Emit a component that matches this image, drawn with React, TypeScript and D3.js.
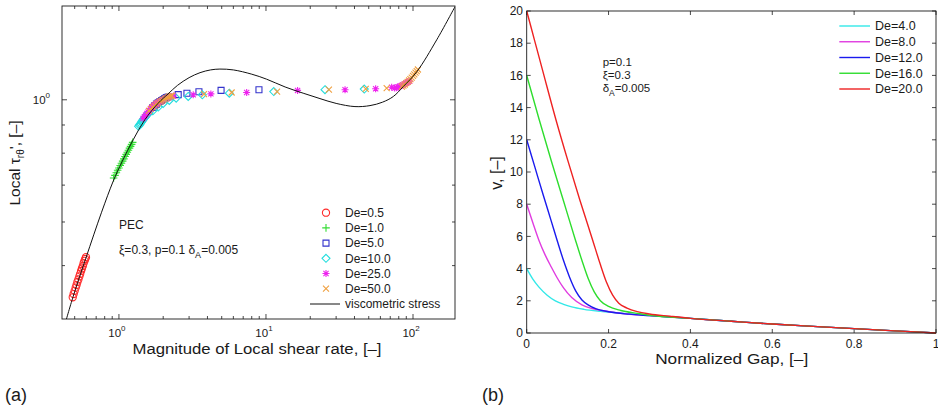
import React from "react";
import * as d3 from "d3";

// ---------- Panel (a) data ----------
const xTickMajorA = [1, 10, 100];
const xTickExpA = ["0", "1", "2"];
const xTickMinorA = [0.5, 0.6, 0.7, 0.8, 0.9, 2, 3, 4, 5, 6, 7, 8, 9, 20, 30, 40, 50, 60, 70, 80, 90];
const yTickMajorA = [1];
const yTickExpA = ["0"];
const yTickMinorA = [0.5, 0.6, 0.7, 0.8, 0.9];

const viscoX = [0.43, 0.489, 0.596, 0.762, 0.915, 1.05, 1.25, 1.5, 1.85, 2.16, 2.5, 3.0, 3.56, 4.2, 4.86, 6.0, 8.0, 10.1, 13.5, 17.9, 23.3, 30, 40.3, 51, 62, 73.5, 85.9, 106, 145, 193];
const viscoY = [0.392, 0.44, 0.516, 0.625, 0.712, 0.772, 0.846, 0.92, 0.986, 1.025, 1.062, 1.097, 1.12, 1.133, 1.137, 1.133, 1.113, 1.09, 1.055, 1.028, 1.005, 0.985, 0.972, 0.976, 0.99, 1.014, 1.057, 1.124, 1.285, 1.476];

const de05X = [0.485, 0.492, 0.5, 0.508, 0.515, 0.522, 0.53, 0.538, 0.545, 0.553, 0.56, 0.568, 0.575, 0.583, 0.59, 0.597];
const de05Y = [0.438, 0.444, 0.45, 0.456, 0.461, 0.467, 0.472, 0.478, 0.483, 0.489, 0.494, 0.499, 0.505, 0.51, 0.514, 0.518];

const de1X = [0.92, 0.94, 0.96, 0.98, 1.0, 1.02, 1.04, 1.06, 1.08, 1.1, 1.12, 1.14, 1.16, 1.18, 1.2, 1.22, 1.24];
const de1Y = [0.721, 0.729, 0.737, 0.745, 0.752, 0.76, 0.767, 0.774, 0.781, 0.789, 0.796, 0.803, 0.81, 0.817, 0.823, 0.83, 0.837];

const de5X = [1.7, 1.75, 1.8, 1.85, 1.9, 1.95, 2.0, 2.05, 2.1, 2.16, 2.53, 2.9, 3.5, 4.95, 8.96];
const de5Y = [0.968, 0.975, 0.982, 0.988, 0.993, 0.997, 1.001, 1.005, 1.009, 1.012, 1.022, 1.028, 1.034, 1.04, 1.043];

const de10X = [1.36, 1.38, 1.4, 1.42, 1.44, 1.46, 1.48, 1.5, 1.52, 1.54, 1.56, 1.58, 1.6, 1.7, 1.85, 2.0, 2.2, 2.45, 2.96, 3.69, 5.63, 11.3, 25.2, 46.6];
const de10Y = [0.895, 0.9, 0.905, 0.91, 0.915, 0.92, 0.925, 0.929, 0.933, 0.937, 0.94, 0.944, 0.947, 0.955, 0.97, 0.985, 0.997, 1.007, 1.014, 1.021, 1.028, 1.035, 1.043, 1.046];

const de25X = [1.46, 1.49, 1.52, 1.55, 1.58, 1.61, 1.64, 1.67, 1.7, 1.73, 1.76, 1.79, 1.82, 1.86, 1.9, 1.95, 2.0, 2.1, 2.2, 2.35, 3.2, 4.22, 7.39, 16.4, 34.5, 55.7, 71.6, 75, 77, 79, 81, 83, 85, 87, 89, 91, 93, 95];
const de25Y = [0.925, 0.932, 0.938, 0.944, 0.95, 0.956, 0.962, 0.967, 0.972, 0.976, 0.98, 0.984, 0.987, 0.99, 0.993, 0.997, 1.0, 1.007, 1.012, 1.016, 1.021, 1.025, 1.031, 1.04, 1.043, 1.047, 1.054, 1.05, 1.052, 1.055, 1.058, 1.06, 1.064, 1.067, 1.071, 1.075, 1.078, 1.082];

const de50X = [1.6, 1.65, 1.7, 1.75, 1.8, 1.85, 1.9, 1.95, 2.0, 2.05, 2.1, 2.15, 2.2, 2.25, 2.3, 3.79, 5.84, 11.9, 26.8, 47.7, 66.2, 84, 86, 88, 90, 92, 94, 96, 98, 100, 102, 104, 106, 108];
const de50Y = [0.955, 0.963, 0.97, 0.976, 0.982, 0.987, 0.992, 0.996, 1.0, 1.004, 1.007, 1.01, 1.013, 1.016, 1.018, 1.024, 1.031, 1.035, 1.043, 1.047, 1.05, 1.057, 1.061, 1.066, 1.072, 1.078, 1.084, 1.09, 1.097, 1.105, 1.112, 1.12, 1.127, 1.135];

const legendLabelsA = ["De=0.5", "De=1.0", "De=5.0", "De=10.0", "De=25.0", "De=50.0"];

// ---------- Panel (b) data ----------
const xTicksB = [0, 0.2, 0.4, 0.6, 0.8, 1];
const xTickLabelsB = ["0", "0.2", "0.4", "0.6", "0.8", "1"];
const yTicksB = [0, 2, 4, 6, 8, 10, 12, 14, 16, 18, 20];

const tailGap = [0.4, 0.5, 0.6, 0.7, 0.8, 0.9, 1.0];
const tailV = [0.91, 0.73, 0.555, 0.41, 0.27, 0.135, 0.0];

const gap4 = [0, 0.015, 0.03, 0.05, 0.07, 0.09, 0.11, 0.14, 0.18, 0.22, 0.3];
const v4 = [4, 3.35, 2.85, 2.35, 2.0, 1.78, 1.62, 1.47, 1.35, 1.26, 1.08];
const gap8 = [0, 0.015, 0.03, 0.045, 0.06, 0.075, 0.09, 0.11, 0.135, 0.16, 0.19, 0.23, 0.3];
const v8 = [8, 6.85, 5.75, 4.85, 4.1, 3.4, 2.8, 2.2, 1.75, 1.52, 1.37, 1.23, 1.08];
const gap12 = [0, 0.02, 0.04, 0.06, 0.075, 0.09, 0.105, 0.12, 0.135, 0.15, 0.17, 0.2, 0.25, 0.3];
const v12 = [12, 10.3, 8.6, 6.95, 5.7, 4.5, 3.45, 2.6, 2.05, 1.75, 1.5, 1.32, 1.17, 1.08];
const gap16 = [0, 0.0308, 0.06, 0.09, 0.119, 0.135, 0.15, 0.165, 0.18, 0.2, 0.23, 0.27, 0.3];
const v16 = [16, 13.23, 10.7, 8.2, 5.78, 4.5, 3.4, 2.55, 2.0, 1.65, 1.4, 1.22, 1.1];
const gap20 = [0, 0.02, 0.04, 0.0716, 0.1, 0.13, 0.161, 0.18, 0.195, 0.21, 0.225, 0.245, 0.27, 0.3, 0.35];
const v20 = [20, 18.1, 16.2, 13.23, 10.75, 8.25, 5.78, 4.25, 3.15, 2.35, 1.85, 1.55, 1.33, 1.18, 1.04];

const legendLabelsB = ["De=4.0", "De=8.0", "De=12.0", "De=16.0", "De=20.0"];

// ---------- styling ----------
const FONT = "'Liberation Sans', Arial, Helvetica, sans-serif";
const markerTypes = ["circle", "plus", "square", "diamond", "star", "x"];
const markerColors = ["#ff2a2a", "#33dd33", "#3333cc", "#22dddd", "#ee22ee", "#f0a040"];
const lineColorsB = ["#33e8e8", "#e03ce0", "#1a1aee", "#2edd2e", "#ee2222"];

function markerPath(type: string): string {
  switch (type) {
    case "circle": {
      const s = 3.6;
      return `M${-s},0A${s},${s} 0 1,0 ${s},0A${s},${s} 0 1,0 ${-s},0Z`;
    }
    case "plus": {
      const s = 3.8;
      return `M${-s},0H${s}M0,${-s}V${s}`;
    }
    case "square": {
      const s = 3.0;
      return `M${-s},${-s}H${s}V${s}H${-s}Z`;
    }
    case "diamond": {
      const s = 4.0;
      return `M0,${-s}L${s},0L0,${s}L${-s},0Z`;
    }
    case "star": {
      const s = 3.5, d = 2.6;
      return `M${-s},0H${s}M0,${-s}V${s}M${-d},${-d}L${d},${d}M${-d},${d}L${d},${-d}`;
    }
    default: {
      const s = 3.0;
      return `M${-s},${-s}L${s},${s}M${-s},${s}L${s},${-s}`;
    }
  }
}

export default function App() {
  // Panel (a) scales
  const xA = d3.scaleLog().domain([0.41, 193]).range([62, 455]);
  const yA = d3.scaleLog().domain([0.4, 1.48]).range([319, 6]);
  const [aL, aR] = xA.range();
  const [aB, aT] = yA.range();

  const viscoLine = d3
    .line<number>()
    .x((i) => xA(viscoX[i]))
    .y((i) => yA(viscoY[i]))
    .curve(d3.curveCatmullRom.alpha(0.5));

  const seriesA = [
    [de05X, de05Y],
    [de1X, de1Y],
    [de5X, de5Y],
    [de10X, de10Y],
    [de25X, de25Y],
    [de50X, de50Y],
  ];

  // Panel (b) scales
  const xB = d3.scaleLinear().domain([0, 1]).range([526.7, 936]);
  const yB = d3.scaleLinear().domain([0, 20]).range([333, 11]);
  const [bL, bR] = xB.range();
  const [bB, bT] = yB.range();
  const seriesB = [
    [gap4, v4],
    [gap8, v8],
    [gap12, v12],
    [gap16, v16],
    [gap20, v20],
  ].map(([g, v]) => ({ g: g.concat(tailGap), v: v.concat(tailV) }));
  const lineB = (g: number[], v: number[]) =>
    d3
      .line<number>()
      .x((i) => xB(g[i]))
      .y((i) => yB(v[i]))
      .curve(d3.curveMonotoneX)(d3.range(g.length)) || "";

  const majT = 5, minT = 3, tickB = 4;
  const ink = "#1a1a1a";

  return (
    <>
      <style>{`body{margin:0;background:#fff}`}</style>
      <svg width={938} height={412} style={{ display: "block", fontFamily: FONT }}>
        <rect x={0} y={0} width={938} height={412} fill="#fff" />
        <defs>
          <clipPath id="clipA">
            <rect x={aL} y={aT} width={aR - aL} height={aB - aT} />
          </clipPath>
          <clipPath id="clipB">
            <rect x={bL} y={bT - 2} width={bR - bL + 2} height={bB - bT + 4} />
          </clipPath>
        </defs>

        {/* ---------------- Panel (a) ---------------- */}
        <g>
          {xTickMajorA.map((t) => (
            <g key={"xma" + t}>
              <line x1={xA(t)} x2={xA(t)} y1={aB} y2={aB - majT} stroke={ink} strokeWidth={0.8} />
              <line x1={xA(t)} x2={xA(t)} y1={aT} y2={aT + majT} stroke={ink} strokeWidth={0.8} />
            </g>
          ))}
          {xTickMinorA.map((t) => (
            <g key={"xmi" + t}>
              <line x1={xA(t)} x2={xA(t)} y1={aB} y2={aB - minT} stroke={ink} strokeWidth={0.8} />
              <line x1={xA(t)} x2={xA(t)} y1={aT} y2={aT + minT} stroke={ink} strokeWidth={0.8} />
            </g>
          ))}
          {yTickMajorA.map((t) => (
            <g key={"yma" + t}>
              <line x1={aL} x2={aL + majT} y1={yA(t)} y2={yA(t)} stroke={ink} strokeWidth={0.8} />
              <line x1={aR} x2={aR - majT} y1={yA(t)} y2={yA(t)} stroke={ink} strokeWidth={0.8} />
            </g>
          ))}
          {yTickMinorA.map((t) => (
            <g key={"ymi" + t}>
              <line x1={aL} x2={aL + minT} y1={yA(t)} y2={yA(t)} stroke={ink} strokeWidth={0.8} />
              <line x1={aR} x2={aR - minT} y1={yA(t)} y2={yA(t)} stroke={ink} strokeWidth={0.8} />
            </g>
          ))}
          {xTickMajorA.map((t, i) => (
            <text key={"xla" + t} x={xA(t) - 2} y={337} fontSize={11.5} textAnchor="middle" fill={ink}>
              10<tspan dy={-6} fontSize={8}>{xTickExpA[i]}</tspan>
            </text>
          ))}
          {yTickMajorA.map((t, i) => (
            <text key={"yla" + t} x={50} y={yA(t) + 4} fontSize={11.5} textAnchor="end" fill={ink}>
              10<tspan dy={-6} fontSize={8}>{yTickExpA[i]}</tspan>
            </text>
          ))}

          <g clipPath="url(#clipA)">
            {seriesA.map(([xs, ys], si) =>
              xs.map((xv, j) => (
                <path
                  key={"m" + si + "_" + j}
                  d={markerPath(markerTypes[si])}
                  transform={`translate(${xA(xv)},${yA(ys[j])})`}
                  fill="none"
                  stroke={markerColors[si]}
                  strokeWidth={1.1}
                />
              ))
            )}
            <path d={viscoLine(d3.range(viscoX.length)) || ""} fill="none" stroke="#111" strokeWidth={1} />
          </g>

          <rect x={aL} y={aT} width={aR - aL} height={aB - aT} fill="none" stroke={ink} strokeWidth={0.9} />

          <text x={119} y={229} fontSize={12} fill={ink}>PEC</text>
          <text x={119} y={254} fontSize={12} fill={ink}>
            ξ=0.3, p=0.1 δ<tspan dy={4} fontSize={9}>A</tspan>
            <tspan dy={-4}>=0.005</tspan>
          </text>

          {legendLabelsA.map((lab, i) => {
            const cy = 212.7 + i * 15.2;
            return (
              <g key={"lga" + i}>
                <path d={markerPath(markerTypes[i])} transform={`translate(326,${cy})`} fill="none" stroke={markerColors[i]} strokeWidth={1.1} />
                <text x={345} y={cy + 4.2} fontSize={12} fill={ink}>{lab}</text>
              </g>
            );
          })}
          <line x1={310} x2={340} y1={304} y2={304} stroke="#111" strokeWidth={1} />
          <text x={345} y={308.2} fontSize={12} fill={ink}>viscometric stress</text>

          <text x={257} y={354} fontSize={15.5} textAnchor="middle" fill={ink} textLength={249} lengthAdjust="spacingAndGlyphs">
            Magnitude of Local shear rate, [–]
          </text>
          <text transform="translate(20,163) rotate(-90)" fontSize={15.5} textAnchor="middle" fill={ink}>
            Local τ<tspan dy={4} fontSize={10}>rθ</tspan>
            <tspan dy={-4}>', [–]</tspan>
          </text>
          <text x={5} y={401} fontSize={18} fill={ink}>(a)</text>
        </g>

        {/* ---------------- Panel (b) ---------------- */}
        <g>
          {xTicksB.map((t, i) => (
            <g key={"xb" + t}>
              <line x1={xB(t)} x2={xB(t)} y1={bB} y2={bB - tickB} stroke={ink} strokeWidth={0.8} />
              <line x1={xB(t)} x2={xB(t)} y1={bT} y2={bT + tickB} stroke={ink} strokeWidth={0.8} />
              <text x={xB(t)} y={347.5} fontSize={12} textAnchor="middle" fill={ink}>{xTickLabelsB[i]}</text>
            </g>
          ))}
          {yTicksB.map((t) => (
            <g key={"yb" + t}>
              <line x1={bL} x2={bL + tickB} y1={yB(t)} y2={yB(t)} stroke={ink} strokeWidth={0.8} />
              <line x1={bR} x2={bR - tickB} y1={yB(t)} y2={yB(t)} stroke={ink} strokeWidth={0.8} />
              <text x={523} y={yB(t) + 4.2} fontSize={12} textAnchor="end" fill={ink}>{t}</text>
            </g>
          ))}

          <g clipPath="url(#clipB)">
            {seriesB.map((s, i) => (
              <path key={"lb" + i} d={lineB(s.g, s.v)} fill="none" stroke={lineColorsB[i]} strokeWidth={1.4} />
            ))}
          </g>

          <rect x={bL} y={bT} width={bR - bL} height={bB - bT} fill="none" stroke={ink} strokeWidth={0.9} />

          {legendLabelsB.map((lab, i) => {
            const cy = 26 + i * 15.75;
            return (
              <g key={"lgb" + i}>
                <line x1={839.3} x2={870} y1={cy} y2={cy} stroke={lineColorsB[i]} strokeWidth={1.4} />
                <text x={875} y={cy + 4.4} fontSize={12.5} fill={ink}>{lab}</text>
              </g>
            );
          })}

          <text x={602.7} y={66} fontSize={11.5} fill={ink}>p=0.1</text>
          <text x={602.7} y={79} fontSize={11.5} fill={ink}>ξ=0.3</text>
          <text x={602.7} y={92} fontSize={11.5} fill={ink}>
            δ<tspan dy={4} fontSize={8.5}>A</tspan>
            <tspan dy={-4}>=0.005</tspan>
          </text>

          <text x={731.7} y={364} fontSize={15.5} textAnchor="middle" fill={ink} textLength={153} lengthAdjust="spacingAndGlyphs">
            Normalized Gap, [–]
          </text>
          <text transform="translate(502,173) rotate(-90)" fontSize={16} textAnchor="middle" fill={ink}>
            v, [–]
          </text>
          <text x={482} y={401} fontSize={18} fill={ink}>(b)</text>
        </g>
      </svg>
    </>
  );
}
